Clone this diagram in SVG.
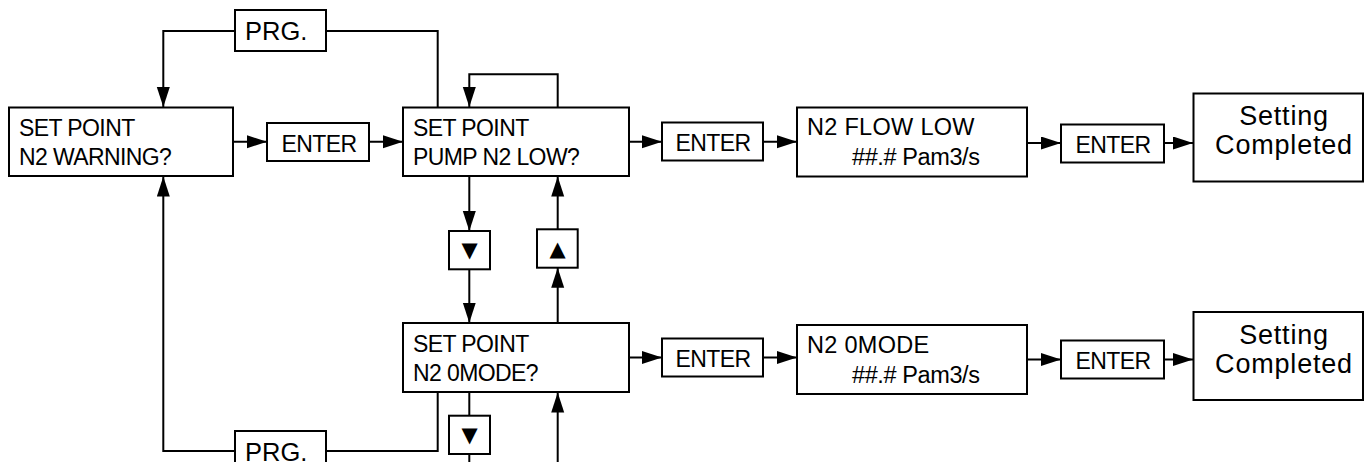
<svg xmlns="http://www.w3.org/2000/svg" width="1365" height="462" viewBox="0 0 1365 462">
<style>
.box{fill:#fff;stroke:#000;stroke-width:2}
.ln{fill:none;stroke:#000;stroke-width:2}
.t{font-family:"Liberation Sans",Arial,sans-serif;fill:#000}
.s{font-size:23px;letter-spacing:-0.6px}
.e{font-size:23px;letter-spacing:-0.6px;text-anchor:middle}
.v{font-size:23.5px;letter-spacing:0.3px}
.w{font-size:23.5px;letter-spacing:-0.4px}
.c{font-size:27px;letter-spacing:0.8px;text-anchor:middle}
.p{font-size:25.5px}
.g{font-family:"DejaVu Sans",sans-serif;font-size:21px;text-anchor:middle;fill:#000}
</style>
<defs>
<marker id="ah" markerUnits="userSpaceOnUse" markerWidth="21" markerHeight="14" refX="20" refY="6.5" orient="auto">
<path d="M0,0 L20,6.5 L0,13 z" fill="#000"/>
</marker>
</defs>
<g id="connectors">
<path class="ln" d="M437.7,107.5 V31 H326"/>
<path class="ln" d="M235,31 H163.3 V107" marker-end="url(#ah)"/>
<path class="ln" d="M437.7,392 V451 H326"/>
<path class="ln" d="M235,451 H163.3 V176.5" marker-end="url(#ah)"/>
<path class="ln" d="M557.7,107.5 V74.3 H469.3 V107" marker-end="url(#ah)"/>
<path class="ln" d="M469.3,176.5 V231" marker-end="url(#ah)"/>
<path class="ln" d="M469.3,269.3 V322.7" marker-end="url(#ah)"/>
<path class="ln" d="M557.7,322.7 V267.7" marker-end="url(#ah)"/>
<path class="ln" d="M557.7,229.3 V176.5" marker-end="url(#ah)"/>
<path class="ln" d="M469.3,392 V415.7"/>
<path class="ln" d="M469.3,454 V470"/>
<path class="ln" d="M557.7,470 V392.5" marker-end="url(#ah)"/>
<path class="ln" d="M233,141.7 H267" marker-end="url(#ah)"/>
<path class="ln" d="M369,141.7 H403" marker-end="url(#ah)"/>
<path class="ln" d="M629,141.7 H662" marker-end="url(#ah)"/>
<path class="ln" d="M763,141.7 H797" marker-end="url(#ah)"/>
<path class="ln" d="M1027,143 H1061" marker-end="url(#ah)"/>
<path class="ln" d="M1164,143 H1193" marker-end="url(#ah)"/>
<path class="ln" d="M629,357.5 H662" marker-end="url(#ah)"/>
<path class="ln" d="M763,357.5 H797" marker-end="url(#ah)"/>
<path class="ln" d="M1027,359.5 H1061" marker-end="url(#ah)"/>
<path class="ln" d="M1164,359.5 H1193" marker-end="url(#ah)"/>
</g>
<g id="prg-top">
<rect class="box" x="235" y="10" width="91" height="41"/>
<text class="t p" x="245" y="39.5">PRG.</text>
</g>
<g id="prg-bottom">
<rect class="box" x="235" y="431" width="91" height="41"/>
<text class="t p" x="245" y="460.5">PRG.</text>
</g>
<g id="n2-warning">
<rect class="box" x="9" y="107.5" width="224" height="68.5"/>
<text class="t s" x="19" y="136">SET POINT</text>
<text class="t s" x="19" y="164.5">N2 WARNING?</text>
</g>
<g id="enter-1">
<rect class="box" x="267" y="123" width="102" height="38"/>
<text class="t e" x="319" y="151.5">ENTER</text>
</g>
<g id="pump-n2-low">
<rect class="box" x="403" y="107.5" width="226" height="68.5"/>
<text class="t s" x="413" y="136">SET POINT</text>
<text class="t s" x="413" y="164.5">PUMP N2 LOW?</text>
</g>
<g id="enter-2">
<rect class="box" x="662" y="122.5" width="101" height="38"/>
<text class="t e" x="713" y="151">ENTER</text>
</g>
<g id="n2-flow-low">
<rect class="box" x="797" y="107.5" width="230" height="69"/>
<text class="t v" x="807" y="135">N2 FLOW LOW</text>
<text class="t w" x="852" y="165">##.# Pam3/s</text>
</g>
<g id="enter-3">
<rect class="box" x="1061" y="124.5" width="103" height="38"/>
<text class="t e" x="1113" y="153">ENTER</text>
</g>
<g id="setting-completed-1">
<rect class="box" x="1193.5" y="93.5" width="169.5" height="88"/>
<text class="t c" x="1284" y="125">Setting</text>
<text class="t c" x="1284" y="154">Completed</text>
</g>
<g id="down-1">
<rect class="box" x="449" y="231" width="41" height="38.3"/>
<text class="g" x="469.5" y="257">▼</text>
</g>
<g id="up-1">
<rect class="box" x="537" y="229.3" width="40.7" height="38.4"/>
<text class="g" x="557.5" y="255.5">▲</text>
</g>
<g id="n2-0mode-q">
<rect class="box" x="403" y="323" width="226" height="69"/>
<text class="t s" x="413" y="352">SET POINT</text>
<text class="t s" x="413" y="380.5">N2 0MODE?</text>
</g>
<g id="enter-4">
<rect class="box" x="662" y="338.5" width="101" height="38"/>
<text class="t e" x="713" y="367">ENTER</text>
</g>
<g id="n2-0mode">
<rect class="box" x="797" y="325" width="230" height="69"/>
<text class="t v" x="807" y="352.5">N2 0MODE</text>
<text class="t w" x="852" y="382.5">##.# Pam3/s</text>
</g>
<g id="enter-5">
<rect class="box" x="1061" y="340.5" width="103" height="38"/>
<text class="t e" x="1113" y="369">ENTER</text>
</g>
<g id="setting-completed-2">
<rect class="box" x="1193.5" y="312" width="169.5" height="88"/>
<text class="t c" x="1284" y="343.5">Setting</text>
<text class="t c" x="1284" y="372.5">Completed</text>
</g>
<g id="down-2">
<rect class="box" x="449" y="415.7" width="41" height="38.3"/>
<text class="g" x="469.5" y="441.5">▼</text>
</g>
</svg>
